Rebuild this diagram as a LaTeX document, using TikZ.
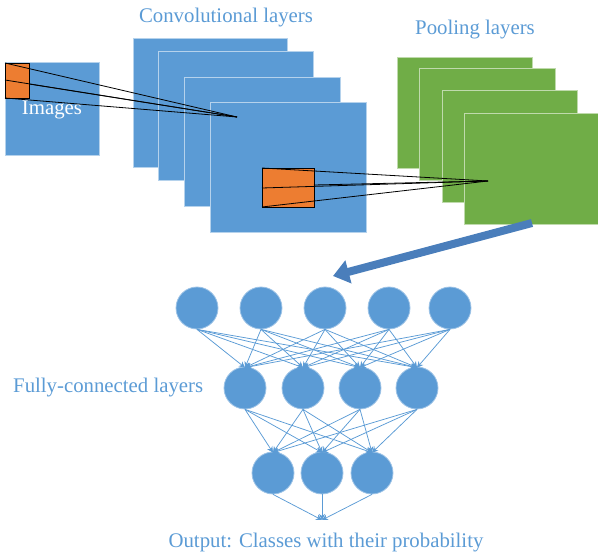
\documentclass[tikz,border=0pt]{standalone}
\usepackage{fontspec}
\setmainfont{Liberation Serif}
\usetikzlibrary{arrows.meta}
\definecolor{cblue}{HTML}{5B9BD5}
\definecolor{cgreen}{HTML}{70AD47}
\definecolor{corange}{HTML}{ED7D31}
\definecolor{carrow}{HTML}{4A7EBB}
\definecolor{carrowd}{HTML}{41719C}
\begin{document}
\begin{tikzpicture}[x=1pt,y=-1pt,
  bluemap/.style={draw=cblue!45!white, line width=1, fill=cblue, inner sep=0, outer sep=0, anchor=north west},
  greenmap/.style={draw=cgreen!45!white, line width=1, fill=cgreen, inner sep=0, outer sep=0, anchor=north west},
  patch/.style={draw=black, line width=0.8, fill=corange, inner sep=0, outer sep=0, anchor=north west},
  ray/.style={draw=black, line width=0.8},
  label/.style={text=cblue, font=\fontsize{20.8}{24}\selectfont, inner sep=0},
  neuron/.style={circle, fill=cblue, draw=cblue!60!white, line width=0.8, minimum size=42, inner sep=0},
  link/.style={draw=cblue, line width=0.75, -{Stealth[length=6,width=6]}},
  bigarrow/.style={draw=carrowd, line width=8, -{Triangle[length=16,width=23]}, shorten >=0},
]
\useasboundingbox (0,0) rectangle (598,553);

% labels
\node[label] (tconv) at (226,18) {Convolutional layers};
\node[label] (tpool) at (475,30) {Pooling layers};
\node[label, anchor=west] (tfc) at (13,388) {Fully-connected layers};
\node[label] (tout) at (326,543) {Output: Classes with their probability};

% image
\node[bluemap, minimum width=94, minimum height=93] (img) at (5,63) {};
\node[text=white, font=\fontsize{20.8}{24}\selectfont, inner sep=0] (timg) at (52,110) {Images};

% convolutional maps
\node[bluemap, minimum width=154, minimum height=129] (c1) at (133,39) {};
\node[bluemap, minimum width=155, minimum height=129] (c2) at (158,52) {};
\node[bluemap, minimum width=156, minimum height=129] (c3) at (184,78) {};
\node[bluemap, minimum width=156, minimum height=130] (c4) at (210,103) {};

% pooling maps
\node[greenmap, minimum width=135, minimum height=111] (p1) at (397,58) {};
\node[greenmap, minimum width=136, minimum height=112] (p2) at (419,69) {};
\node[greenmap, minimum width=135, minimum height=112] (p3) at (442,91) {};
\node[greenmap, minimum width=136, minimum height=111] (p4) at (464,114) {};

% patches and rays
\node[patch, minimum width=24, minimum height=35] (o1) at (5,63) {};
\coordinate (a1) at (237,117);
\draw[ray] (o1.north west) -- (a1);
\draw[ray] (5,80) -- (a1);
\draw[ray] (29,84) -- (a1);
\draw[ray] (o1.south west) -- (a1);

\node[patch, minimum width=52, minimum height=39] (o2) at (262,168) {};
\coordinate (a2) at (488,181);
\draw[ray] (o2.north west) -- (a2);
\draw[ray] (262,188) -- (a2);
\draw[ray] (314,185) -- (a2);
\draw[ray] (o2.south west) -- (a2);

% big arrow
\coordinate (arrEnd) at (333,276);
\draw[bigarrow, draw=carrow] ([yshift=2]p4.south) -- (arrEnd);

% network
\foreach \x [count=\i] in {197,261,325,389,450}
  \node[neuron] (t\i) at (\x,308) {};
\foreach \x [count=\i] in {245,303,360,417}
  \node[neuron] (m\i) at (\x,388) {};
\foreach \x [count=\i] in {273,322,372}
  \node[neuron] (b\i) at (\x,473) {};
\coordinate (out) at (322,520);

\foreach \i in {1,...,5}
  \foreach \j in {1,...,4}
    \draw[link] (t\i.south) -- ([yshift=-1]m\j.north);
\foreach \i in {1,...,4}
  \foreach \j in {1,...,3}
    \draw[link] (m\i.south) -- ([yshift=-1]b\j.north);
\foreach \i in {1,...,3}
  \draw[link] (b\i.south) -- (out);
\end{tikzpicture}
\end{document}
